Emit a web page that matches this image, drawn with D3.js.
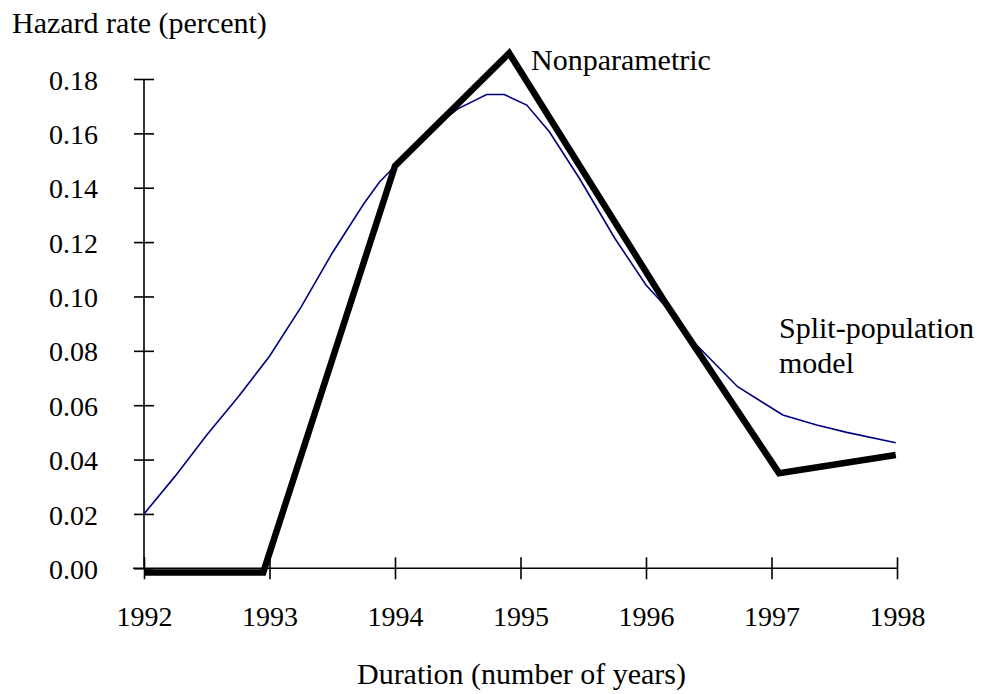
<!DOCTYPE html>
<html>
<head>
<meta charset="utf-8">
<script src="https://cdn.jsdelivr.net/npm/d3@7"></script>
<style>
  body { margin: 0; background: #fff; }
</style>
</head>
<body>
<div id="chart"></div>
<script>
// Données
const years = [1992, 1993, 1994, 1995, 1996, 1997, 1998];
const yTicks = [0, 0.02, 0.04, 0.06, 0.08, 0.10, 0.12, 0.14, 0.16, 0.18];

// Estimation non paramétrique (trait noir épais)
const nonparamX = [1992.0, 1992.95, 1994.0, 1994.91, 1996.15, 1997.06, 1997.99];
const nonparamY = [-0.0015, -0.0015, 0.148, 0.1895, 0.098, 0.035, 0.0417];

// Modèle à population divisée (trait bleu fin)
const splitX = [1992.0, 1992.25, 1992.5, 1992.75, 1993.0, 1993.25, 1993.5, 1993.75, 1993.875, 1994.0,
                1994.25, 1994.5, 1994.73, 1994.87, 1995.05, 1995.23, 1995.47, 1995.75, 1996.0, 1996.17,
                1996.35, 1996.73, 1997.09, 1997.36, 1997.6, 1997.99];
const splitY = [0.020, 0.034, 0.049, 0.063, 0.078, 0.096, 0.116, 0.134, 0.142, 0.148,
                0.160, 0.169, 0.1743, 0.1743, 0.1704, 0.1606, 0.1434, 0.1215, 0.1042, 0.0957,
                0.0846, 0.0668, 0.0564, 0.0527, 0.050, 0.0462];

const CONFIG = { width: 990, height: 694 };
const FONT = "Liberation Serif";

const svg = d3.select("#chart").append("svg")
    .attr("width", CONFIG.width)
    .attr("height", CONFIG.height)
    .attr("font-family", FONT);

// Échelles
const x = d3.scaleLinear().domain([1992, 1998]).range([144, 897]);
const y = d3.scaleLinear().domain([0, 0.18]).range([568.3, 79]);

// Axe X
const xAxis = svg.append("g")
    .attr("transform", `translate(0,${y(0)})`)
    .call(d3.axisBottom(x).tickValues(years).tickFormat(d3.format("d")).tickSizeOuter(0))
    .attr("font-family", FONT);
xAxis.select(".domain").attr("d", `M${x(1992) - 11},0H${x(1998)}`)
    .attr("stroke", "#000").attr("stroke-width", 1.6);
xAxis.selectAll(".tick line").attr("y1", -11).attr("y2", 11)
    .attr("stroke", "#000").attr("stroke-width", 1.6);
xAxis.selectAll(".tick text")
    .attr("y", 58).attr("dy", 0)
    .attr("font-size", 28).attr("fill", "#000");

// Axe Y
const yAxis = svg.append("g")
    .attr("transform", `translate(${x(1992)},0)`)
    .call(d3.axisLeft(y).tickValues(yTicks).tickFormat(d3.format(".2f")).tickSizeOuter(0))
    .attr("font-family", FONT);
yAxis.select(".domain").attr("d", `M0,${y(0.18)}V${y(0)}`)
    .attr("stroke", "#000").attr("stroke-width", 1.6);
yAxis.selectAll(".tick line").attr("x1", -10).attr("x2", 10)
    .attr("stroke", "#000").attr("stroke-width", 1.6);
yAxis.selectAll(".tick text")
    .attr("x", -46).attr("dy", "0.36em")
    .attr("font-size", 28).attr("fill", "#000");

// Courbes
const line = d3.line().x(d => x(d[0])).y(d => y(d[1]));

svg.append("path")
    .datum(splitX.map((v, i) => [v, splitY[i]]))
    .attr("d", line)
    .attr("fill", "none")
    .attr("stroke", "#000080")
    .attr("stroke-width", 1.6);

svg.append("path")
    .datum(nonparamX.map((v, i) => [v, nonparamY[i]]))
    .attr("d", line)
    .attr("fill", "none")
    .attr("stroke", "#000")
    .attr("stroke-width", 6.5)
    .attr("stroke-linejoin", "miter");

// Textes
function label(tx, ty, s, anchor) {
    svg.append("text").attr("x", tx).attr("y", ty)
        .attr("text-anchor", anchor || "start")
        .attr("font-size", 30).text(s);
}
label(12, 33, "Hazard rate (percent)");
label((x(1992) + x(1998)) / 2 + 1, 684, "Duration (number of years)", "middle");
label(531, 70, "Nonparametric");
label(779, 338, "Split-population");
label(779, 373, "model");
</script>
</body>
</html>
